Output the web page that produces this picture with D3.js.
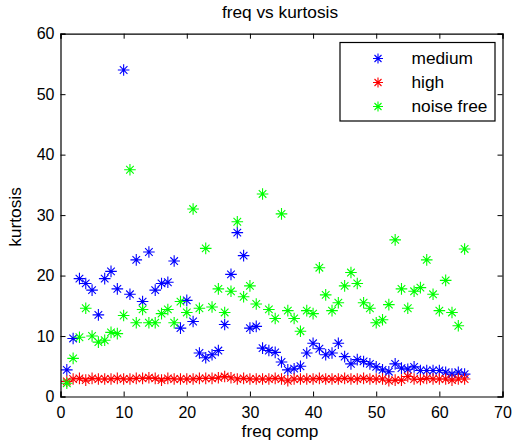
<!DOCTYPE html>
<html><head><meta charset="utf-8">
<script src="https://cdn.jsdelivr.net/npm/d3@7"></script>
<style>body{margin:0;background:#fff}svg{display:block;font-family:"Liberation Sans",Arial,sans-serif}</style>
</head><body><svg id="c" width="513" height="446"></svg>
<script>
const freq = d3.range(1, 65);
const medium = [4.4,9.6,19.5,18.7,17.6,13.5,19.5,20.7,17.8,54.0,16.9,22.6,15.7,23.9,17.6,18.7,18.9,22.4,11.3,15.9,12.4,7.2,6.4,6.9,7.6,11.9,20.2,27.1,23.3,11.3,11.6,8.0,7.6,7.3,5.7,4.4,4.6,5.0,7.2,8.8,7.9,6.9,7.2,8.8,6.6,5.4,6.1,5.8,5.4,4.9,4.4,4.1,5.4,4.7,4.5,4.9,4.3,4.3,4.3,4.3,4.0,3.7,4.0,3.7];
const high = [2.5,2.9,3.0,2.7,3.0,2.9,2.9,2.9,3.0,2.9,2.9,3.0,3.0,3.1,3.0,2.7,3.0,2.9,2.9,2.9,2.9,3.0,3.0,3.0,3.1,3.3,3.1,2.9,3.0,2.9,2.9,2.9,2.9,3.0,2.9,2.6,2.9,2.9,2.9,2.9,3.0,2.9,2.9,2.9,3.0,2.9,2.9,3.0,2.9,2.9,2.9,2.6,2.7,2.7,3.3,2.9,2.8,3.0,2.9,2.9,2.9,2.7,2.9,2.9];
const noiseFree = [2.2,6.3,9.8,14.6,10.0,9.0,9.3,10.6,10.4,13.4,37.5,12.2,14.4,12.2,12.2,13.7,14.4,12.2,15.7,13.9,31.0,14.6,24.5,14.8,17.8,13.9,17.4,28.9,16.5,18.3,15.3,33.5,14.4,12.9,30.2,14.2,12.9,10.8,14.2,13.7,21.3,16.8,14.2,15.5,18.3,20.5,18.7,15.5,14.6,12.2,12.7,15.2,25.9,17.8,14.6,17.4,18.0,22.6,16.9,14.2,19.2,13.9,11.7,24.4];
const seriesNames = ["medium","high","noise free"];
const seriesColors = ["#0000ff","#ff0000","#00ff00"];
const xTicks = [0,10,20,30,40,50,60,70];
const yTicks = [0,10,20,30,40,50,60];

const svg = d3.select("#c");
const L=60.5, R=502.5, T=33.7, B=396.5;
const x = d3.scaleLinear().domain([0,70]).range([L,R]);
const y = d3.scaleLinear().domain([0,60]).range([B,T]);

function star(g, cx, cy, color, a=5.8, b=3.8){
  g.append("path").attr("d",
    `M${cx-a},${cy}H${cx+a}M${cx},${cy-a}V${cy+a}M${cx-b},${cy-b}L${cx+b},${cy+b}M${cx-b},${cy+b}L${cx+b},${cy-b}`)
   .attr("stroke",color).attr("stroke-width",1.1).attr("fill","none");
}
function stretch(sel, k){
  sel.each(function(){
    const w = this.getComputedTextLength();
    d3.select(this).attr("textLength", w*k).attr("lengthAdjust","spacingAndGlyphs");
  });
}

const series = [medium, high, noiseFree];
const pg = svg.append("g");
series.forEach((vals,si)=>{
  vals.forEach((v,i)=>star(pg, x(freq[i]), y(v), seriesColors[si]));
});

const gx = svg.append("g").attr("transform",`translate(0,${B})`)
  .call(d3.axisBottom(x).tickValues(xTicks).tickSize(-5).tickPadding(10));
const gxt = svg.append("g").attr("transform",`translate(0,${T})`)
  .call(d3.axisTop(x).tickValues(xTicks).tickSize(-5).tickFormat(""));
const gy = svg.append("g").attr("transform",`translate(${L},0)`)
  .call(d3.axisLeft(y).tickValues(yTicks).tickSize(-5).tickPadding(6));
const gyr = svg.append("g").attr("transform",`translate(${R},0)`)
  .call(d3.axisRight(y).tickValues(yTicks).tickSize(-5).tickFormat(""));
[gx,gxt,gy,gyr].forEach(g=>{
  g.selectAll("path").attr("stroke","#000").attr("stroke-width",1.2);
  g.selectAll("line").attr("stroke","#000");
  g.selectAll("text").attr("font-size","16px").attr("fill","#000").attr("font-family","Liberation Sans, Arial, sans-serif");
});

const t1 = svg.append("text").attr("x",280).attr("y",18).attr("text-anchor","middle")
  .attr("font-size","16px").text("freq vs kurtosis");
const t2 = svg.append("text").attr("x",280).attr("y",437).attr("text-anchor","middle")
  .attr("font-size","16px").text("freq comp");
const t3 = svg.append("text").attr("transform",`translate(20.5,217) rotate(-90)`).attr("text-anchor","middle")
  .attr("font-size","16px").text("kurtosis");
[t1,t2,t3].forEach(t=>stretch(t,1.08));

const lg = svg.append("g");
lg.append("rect").attr("x",340).attr("y",42.5).attr("width",155).attr("height",78.5)
  .attr("fill","#fff").attr("stroke","#000").attr("stroke-width",1.2);
seriesNames.forEach((n,i)=>{
  const cy = 58.5 + i*24;
  star(lg, 378, cy, seriesColors[i], 5, 3.5);
  const t = lg.append("text").attr("x",411.5).attr("y",cy+5.5).attr("font-size","16px").text(n);
  stretch(t,1.08);
});
</script></body></html>
